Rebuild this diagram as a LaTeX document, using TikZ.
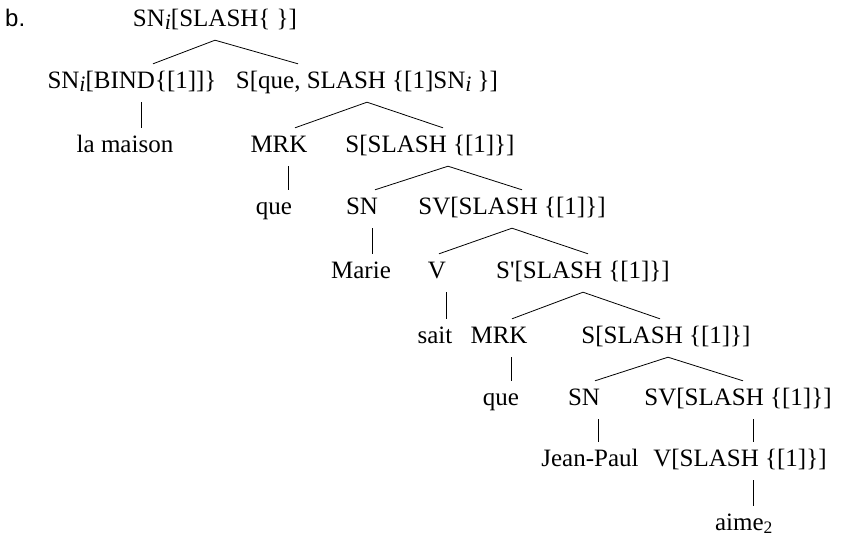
\documentclass[tikz,border=0pt]{standalone}
\usepackage{fontspec}
\setmainfont{Liberation Serif}
\newfontfamily\labelfont{Liberation Sans}
\newcommand{\idx}{\raisebox{-0.12em}{\fontsize{22}{22}\selectfont\itshape i}}
\tikzset{
  cat/.style={anchor=base, inner xsep=0pt, inner ysep=8pt, text height=16pt, text depth=6pt, font=\fontsize{25}{30}\selectfont},
  branch/.style={line width=0.8pt}
}

\begin{document}
\begin{tikzpicture}[x=1pt, y=-1pt]
      \useasboundingbox (0, 0) rectangle (843, 542);
      \node[anchor=base west, inner sep=0pt, font=\labelfont\fontsize{24}{28}\selectfont] (lbl) at (5, 26) {b.};
      \node[cat] (root) at (215, 26) {SN\idx[SLASH\{ \}]};
      \node[cat] (bind) at (132, 88) {SN\idx[BIND\{[1]]\}};
      \node[cat] (sque) at (367, 88) {S[que, SLASH \{[1]SN\idx\ \}]};
      \node[cat] (maison) at (125, 152) {la maison};
      \node[cat] (mrka) at (279, 152) {MRK};
      \node[cat] (sa) at (430, 152) {S[SLASH \{[1]\}]};
      \node[cat] (quea) at (274, 214) {que};
      \node[cat] (sna) at (362, 214) {SN};
      \node[cat] (sva) at (512, 214) {SV[SLASH \{[1]\}]};
      \node[cat] (marie) at (361, 278) {Marie};
      \node[cat] (va) at (437, 278) {V};
      \node[cat] (sprime) at (583, 278) {S\textquotesingle[SLASH \{[1]\}]};
      \node[cat] (sait) at (435, 343) {sait};
      \node[cat] (mrkb) at (499, 343) {MRK};
      \node[cat] (sb) at (666, 343) {S[SLASH \{[1]\}]};
      \node[cat] (queb) at (501, 405) {que};
      \node[cat] (snb) at (584, 405) {SN};
      \node[cat] (svb) at (738, 405) {SV[SLASH \{[1]\}]};
      \node[cat] (jp) at (590, 466) {Jean-Paul};
      \node[cat] (vb) at (740, 466) {V[SLASH \{[1]\}]};
      \node[cat] (aime) at (744, 530) {aime\textsubscript{2}};
      % branching
      \draw[branch] (root.south) -- ([xshift=21pt]bind.north);
      \draw[branch] (root.south) -- ([xshift=-69pt]sque.north);
      \draw[branch] (sque.south) -- ([xshift=16pt]mrka.north);
      \draw[branch] (sque.south) -- ([xshift=13pt]sa.north);
      \draw[branch] ([xshift=18pt]sa.south) -- ([xshift=13pt]sna.north);
      \draw[branch] ([xshift=18pt]sa.south) -- ([xshift=10pt]sva.north);
      \draw[branch] (sva.south) -- ([xshift=2pt]va.north);
      \draw[branch] (sva.south) -- ([xshift=5pt]sprime.north);
      \draw[branch] (sprime.south) -- ([xshift=13pt]mrkb.north);
      \draw[branch] (sprime.south) -- ([xshift=-6pt]sb.north);
      \draw[branch] ([xshift=2pt]sb.south) -- ([xshift=11pt]snb.north);
      \draw[branch] ([xshift=2pt]sb.south) -- ([xshift=5pt]svb.north);
      % unary
      \draw[branch] ([xshift=9pt]bind.south) -- ([xshift=9pt]bind.south |- maison.north);
      \draw[branch] ([xshift=9pt]mrka.south) -- ([xshift=9pt]mrka.south |- quea.north);
      \draw[branch] ([xshift=10pt]sna.south) -- ([xshift=10pt]sna.south |- marie.north);
      \draw[branch] ([xshift=9pt]va.south) -- ([xshift=9pt]va.south |- sait.north);
      \draw[branch] ([xshift=12pt]mrkb.south) -- ([xshift=12pt]mrkb.south |- queb.north);
      \draw[branch] ([xshift=14pt]snb.south) -- ([xshift=14pt]snb.south |- jp.north);
      \draw[branch] ([xshift=15pt]svb.south) -- ([xshift=15pt]svb.south |- vb.north);
      \draw[branch] ([xshift=13pt]vb.south) -- ([xshift=13pt]vb.south |- aime.north);
    \end{tikzpicture}
\end{document}
